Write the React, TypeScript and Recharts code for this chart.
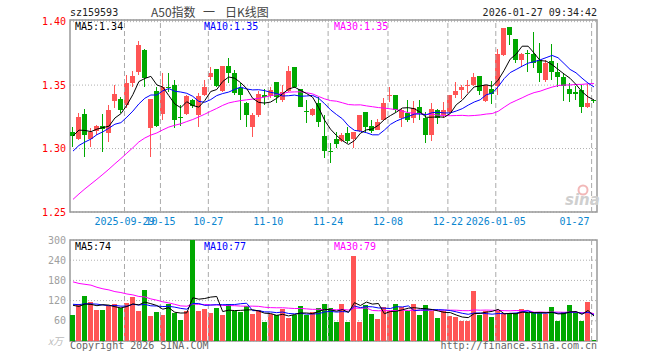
import React from 'react';
import { ComposedChart, Bar, Line, XAxis, YAxis, CartesianGrid, ReferenceLine, ReferenceArea, Cell } from 'recharts';

const MONO = '"DejaVu Sans Mono", monospace';
const RED = '#ff5555';
const GREEN = '#00a800';

// ---- data ----
const opens = [
  1.3133, 1.3076, 1.3270, 1.3076, 1.3141, 1.3178, 1.3126, 1.3378, 1.3388, 1.3341,
  1.3515, 1.3606, 1.3777, 1.3160, 1.3454, 1.3275, 1.3485, 1.3501, 1.3249, 1.3273,
  1.3383, 1.3265, 1.3425, 1.3562, 1.3625, 1.3454, 1.3651, 1.3599, 1.3475, 1.3362,
  1.3173, 1.3265, 1.3420, 1.3415, 1.3525, 1.3383, 1.3457, 1.3646, 1.3467, 1.3294,
  1.3265, 1.3357, 1.3099, 1.2981, 1.3076, 1.3063, 1.3120, 1.3073, 1.3141, 1.3288,
  1.3178, 1.3147, 1.3225, 1.3412, 1.3422, 1.3244, 1.3278, 1.3238, 1.3325, 1.3238,
  1.3107, 1.3304, 1.3265, 1.3291, 1.3422, 1.3462, 1.3498, 1.3501, 1.3572, 1.3378,
  1.3470, 1.3493, 1.3738, 1.3955, 1.3864, 1.3698, 1.3754, 1.3746, 1.3698, 1.3541,
  1.3690, 1.3606, 1.3562, 1.3470, 1.3449, 1.3462, 1.3330, 1.3383,
];
const highs = [
  1.3172, 1.3278, 1.3309, 1.3160, 1.3186, 1.3270, 1.3344, 1.3501, 1.3409, 1.3580,
  1.3614, 1.3850, 1.3782, 1.3388, 1.3488, 1.3593, 1.3593, 1.3541, 1.3344, 1.3422,
  1.3391, 1.3441, 1.3541, 1.3646, 1.3625, 1.3651, 1.3711, 1.3620, 1.3515, 1.3370,
  1.3278, 1.3457, 1.3467, 1.3488, 1.3525, 1.3501, 1.3651, 1.3646, 1.3467, 1.3383,
  1.3317, 1.3404, 1.3265, 1.3047, 1.3133, 1.3120, 1.3168, 1.3133, 1.3265, 1.3288,
  1.3225, 1.3230, 1.3396, 1.3488, 1.3422, 1.3317, 1.3383, 1.3378, 1.3383, 1.3291,
  1.3357, 1.3309, 1.3370, 1.3422, 1.3528, 1.3501, 1.3541, 1.3599, 1.3572, 1.3501,
  1.3535, 1.3782, 1.3948, 1.3961, 1.3864, 1.3751, 1.3777, 1.3921, 1.3835, 1.3698,
  1.3824, 1.3677, 1.3593, 1.3515, 1.3493, 1.3501, 1.3509, 1.3383,
];
const lows = [
  1.3015, 1.3068, 1.2936, 1.3015, 1.3107, 1.2976, 1.3055, 1.3317, 1.3278, 1.3317,
  1.3488, 1.3580, 1.3488, 1.2936, 1.3170, 1.3225, 1.3449, 1.3160, 1.3178, 1.3265,
  1.3317, 1.3173, 1.3417, 1.3541, 1.3488, 1.3449, 1.3515, 1.3422, 1.3225, 1.3173,
  1.3094, 1.3252, 1.3344, 1.3396, 1.3357, 1.3370, 1.3449, 1.3475, 1.3330, 1.3199,
  1.3257, 1.3173, 1.2923, 1.2889, 1.3002, 1.3055, 1.3042, 1.3002, 1.3133, 1.3125,
  1.3120, 1.3147, 1.3225, 1.3370, 1.3291, 1.3173, 1.3212, 1.3199, 1.3225, 1.3042,
  1.3063, 1.3194, 1.3238, 1.3283, 1.3396, 1.3391, 1.3436, 1.3493, 1.3422, 1.3370,
  1.3351, 1.3422, 1.3730, 1.3816, 1.3672, 1.3646, 1.3606, 1.3633, 1.3528, 1.3528,
  1.3541, 1.3488, 1.3378, 1.3370, 1.3383, 1.3283, 1.3317, 1.3357,
];
const closes = [
  1.3096, 1.3251, 1.3107, 1.3133, 1.3178, 1.3157, 1.3304, 1.3431, 1.3304, 1.3515,
  1.3572, 1.3816, 1.3554, 1.3388, 1.3178, 1.3488, 1.3477, 1.3225, 1.3241, 1.3415,
  1.3336, 1.3415, 1.3483, 1.3599, 1.3493, 1.3651, 1.3593, 1.3436, 1.3422, 1.3265,
  1.3265, 1.3431, 1.3409, 1.3462, 1.3409, 1.3449, 1.3614, 1.3488, 1.3330, 1.3286,
  1.3309, 1.3212, 1.2984, 1.2973, 1.3036, 1.3107, 1.3063, 1.3133, 1.3265, 1.3168,
  1.3141, 1.3212, 1.3357, 1.3420, 1.3304, 1.3304, 1.3225, 1.3317, 1.3278, 1.3107,
  1.3309, 1.3238, 1.3304, 1.3422, 1.3454, 1.3488, 1.3504, 1.3562, 1.3457, 1.3501,
  1.3431, 1.3746, 1.3948, 1.3895, 1.3698, 1.3746, 1.3746, 1.3677, 1.3599, 1.3677,
  1.3606, 1.3562, 1.3493, 1.3431, 1.3431, 1.3325, 1.3357, 1.3372,
];
// closes of the 29 sessions before the visible window (estimated from the MA lines)
const priorCloses = [
  1.195, 1.190, 1.200, 1.205, 1.198, 1.210, 1.215, 1.208, 1.222, 1.230,
  1.245, 1.262, 1.270, 1.268, 1.275, 1.282, 1.280, 1.288, 1.290, 1.285,
  1.280, 1.284, 1.290, 1.283, 1.293, 1.302, 1.312, 1.318, 1.308,
];
// volume, 万
const volumes = [
  76, 109, 133, 115, 91, 91, 103, 109, 97, 112,
  130, 88, 151, 73, 85, 76, 109, 84, 61, 88,
  300, 88, 94, 82, 97, 76, 109, 88, 85, 103,
  79, 91, 55, 80, 76, 94, 67, 76, 103, 76,
  85, 97, 109, 97, 55, 109, 55, 253, 55, 106,
  79, 64, 101, 88, 109, 101, 88, 109, 76, 106,
  88, 67, 88, 73, 70, 58, 58, 148, 76, 88,
  70, 88, 82, 82, 82, 94, 82, 82, 82, 80,
  100, 58, 86, 108, 86, 58, 115, 4,
];
const priorVolumes = [
  250, 210, 190, 280, 230, 200, 260, 180, 240, 210,
  230, 190, 250, 200, 220, 205, 215, 200, 115, 105,
  120, 105, 118, 100, 117, 125, 98, 120, 111,
];
// x axis ticks: session index and label
const tickIndex = [9, 15, 23, 33, 43, 53, 63, 71, 87];
const tickLabels = ['2025-09-29', '10-15', '10-27', '11-10', '11-24', '12-08', '12-22', '2026-01-05', '01-27'];
const priceTicks = [1.25, 1.3, 1.35, 1.4];
const volTicks = [60, 120, 180, 240, 300];

function movingAvg(series: number[], prior: number[], n: number): number[] {
  const all = [...prior, ...series];
  return series.map((_, k) => {
    const end = prior.length + k;
    let s = 0;
    for (let j = end - n + 1; j <= end; j++) s += all[j];
    return s / n;
  });
}

const ma5 = movingAvg(closes, priorCloses, 5);
const ma10 = movingAvg(closes, priorCloses, 10);
const ma30 = movingAvg(closes, priorCloses, 30);
const vma5 = movingAvg(volumes, priorVolumes, 5);
const vma10 = movingAvg(volumes, priorVolumes, 10);
const vma30 = movingAvg(volumes, priorVolumes, 30);

const rows = closes.map((c, i) => ({
  i,
  open: opens[i],
  high: highs[i],
  low: lows[i],
  close: c,
  range: [lows[i], highs[i]],
  ma5: ma5[i],
  ma10: ma10[i],
  ma30: ma30[i],
  vol: volumes[i],
  vma5: vma5[i],
  vma10: vma10[i],
  vma30: vma30[i],
}));

const gridPos = tickIndex.map((t) => t - 0.4);
const X_DOMAIN: [number, number] = [-0.5, 87.5];

const Candle = (props: any) => {
  const { x, y, width, height, payload } = props;
  if (x == null || y == null) return null;
  const { open, close, high, low } = payload;
  const up = close > open;
  const color = up ? RED : GREEN;
  const h = Math.abs(height);
  const ratio = h / (high - low);
  const top = y + (high - Math.max(open, close)) * ratio;
  const bot = y + (high - Math.min(open, close)) * ratio;
  const bx = Math.round(x + width / 2 - 2.5);
  return (
    <g shapeRendering="crispEdges">
      <line x1={bx + 2.5} x2={bx + 2.5} y1={y} y2={y + h} stroke={color} strokeWidth={1} />
      <rect x={bx} y={top} width={5} height={Math.max(1, bot - top)} fill={color} />
    </g>
  );
};

const VolBar = (props: any) => {
  const { x, y, width, height, payload } = props;
  if (x == null || y == null) return null;
  const up = payload.close > payload.open;
  const bx = Math.round(x + width / 2 - 2.5);
  return <rect x={bx} y={y} width={5} height={Math.max(0, height)} fill={up ? RED : GREEN} shapeRendering="crispEdges" />;
};

const DateTick = (props: any) => {
  const { x, payload } = props;
  const k = gridPos.indexOf(payload.value);
  if (k < 0) return null;
  const last = k === tickLabels.length - 1;
  return (
    <text x={last ? x - 2 : x} y={225} textAnchor={last ? 'end' : 'middle'} fill="#0a86d0" fontSize={10} fontFamily={MONO}>
      {tickLabels[k]}
    </text>
  );
};

const PriceTick = (props: any) => {
  const { y, payload } = props;
  return (
    <text x={66} y={y + 3.5} textAnchor="end" fill="#ff0000" fontSize={10} fontFamily={MONO}>
      {Number(payload.value).toFixed(2)}
    </text>
  );
};

const VolTick = (props: any) => {
  const { y, payload } = props;
  return (
    <text x={66} y={y + 3.5} textAnchor="end" fill="#a0a0a0" fontSize={10} fontFamily={MONO}>
      {payload.value}
    </text>
  );
};

export default function App() {
  return (
    <div style={{ position: 'absolute', left: 0, top: 0, width: 660, height: 360, background: '#fff', overflow: 'hidden' }}>
      <div style={{ position: 'absolute', left: 0, top: 0 }}>
        <ComposedChart width={660} height={232} data={rows} margin={{ top: 20, right: 63, bottom: 0, left: 0 }}>
          <CartesianGrid vertical={false} stroke="#b0b0b0" strokeDasharray="1 2" />
          <XAxis
            dataKey="i"
            type="number"
            domain={X_DOMAIN}
            ticks={gridPos}
            interval={0}
            tick={DateTick}
            tickLine={false}
            axisLine={false}
            height={20}
            allowDataOverflow
          />
          <YAxis
            type="number"
            domain={[1.25, 1.4013]}
            ticks={priceTicks}
            interval={0}
            tick={PriceTick}
            tickLine={false}
            axisLine={false}
            width={70}
            allowDataOverflow
          />
          {gridPos.map((g) => (
            <ReferenceLine key={g} x={g} stroke="#aaa" strokeDasharray="5 3" />
          ))}
          <Bar dataKey="range" barSize={5} shape={Candle} isAnimationActive={false} />
          <Line dataKey="ma30" stroke="#ff00ff" strokeWidth={1} dot={false} isAnimationActive={false} type="linear" />
          <Line dataKey="ma10" stroke="#0000ff" strokeWidth={1} dot={false} isAnimationActive={false} type="linear" />
          <Line dataKey="ma5" stroke="#000000" strokeWidth={1} dot={false} isAnimationActive={false} type="linear" />
          <ReferenceArea x1={-0.5} x2={87.5} y1={1.25} y2={1.4013} fill="none" stroke="#999" strokeWidth={1.5} />
        </ComposedChart>
      </div>
      <div style={{ position: 'absolute', left: 0, top: 230 }}>
        <ComposedChart width={660} height={130} data={rows} margin={{ top: 10, right: 63, bottom: 19, left: 0 }}>
          <CartesianGrid vertical={false} stroke="#b0b0b0" strokeDasharray="1 2" />
          <XAxis dataKey="i" type="number" domain={X_DOMAIN} hide allowDataOverflow />
          <YAxis
            type="number"
            domain={[0, 300]}
            ticks={volTicks}
            interval={0}
            tick={VolTick}
            tickLine={false}
            axisLine={false}
            width={70}
            allowDataOverflow
          />
          {gridPos.map((g) => (
            <ReferenceLine key={g} x={g} stroke="#aaa" strokeDasharray="5 3" />
          ))}
          <Bar dataKey="vol" barSize={5} shape={VolBar} isAnimationActive={false}>
            {rows.map((r) => (
              <Cell key={r.i} fill={r.close > r.open ? RED : GREEN} />
            ))}
          </Bar>
          <Line dataKey="vma30" stroke="#ff00ff" strokeWidth={1} dot={false} isAnimationActive={false} type="linear" />
          <Line dataKey="vma10" stroke="#0000ff" strokeWidth={1} dot={false} isAnimationActive={false} type="linear" />
          <Line dataKey="vma5" stroke="#000000" strokeWidth={1} dot={false} isAnimationActive={false} type="linear" />
          <ReferenceArea x1={-0.5} x2={87.5} y1={0} y2={300} fill="none" stroke="#999" strokeWidth={1.5} />
        </ComposedChart>
      </div>
      <svg width={660} height={360} style={{ position: 'absolute', left: 0, top: 0, pointerEvents: 'none' }}>
        <text x={70} y={16} fontSize={10} fontFamily={MONO} fill="#222">sz159593</text>
        <text x={151} y={17} fontSize={12} fontFamily='"Noto Sans CJK SC", sans-serif' fill="#444">A50指数</text>
        <text x={203} y={17} fontSize={12} fontFamily='"Noto Sans CJK SC", sans-serif' fill="#444">一</text>
        <text x={225} y={17} fontSize={12} fontFamily='"Noto Sans CJK SC", sans-serif' fill="#444">日K线图</text>
        <text x={597} y={16} fontSize={10} fontFamily={MONO} fill="#222" textAnchor="end">2026-01-27 09:34:42</text>
        <text x={75} y={30} fontSize={10} fontFamily={MONO} fill="#000">MA5:1.34</text>
        <text x={204} y={30} fontSize={10} fontFamily={MONO} fill="#0000ff">MA10:1.35</text>
        <text x={334} y={30} fontSize={10} fontFamily={MONO} fill="#ff00ff">MA30:1.35</text>
        <text x={75} y={250} fontSize={10} fontFamily={MONO} fill="#000">MA5:74</text>
        <text x={204} y={250} fontSize={10} fontFamily={MONO} fill="#0000ff">MA10:77</text>
        <text x={334} y={250} fontSize={10} fontFamily={MONO} fill="#ff00ff">MA30:79</text>
        <text x={48} y={345} fontSize={10} fontFamily='"Noto Sans CJK SC", sans-serif' fill="#bbb" fontStyle="italic">x万</text>
        <text x={70} y={349} fontSize={10} fontFamily={MONO} fill="#666">Copyright 2026 SINA.COM</text>
        <text x={597} y={349} fontSize={10} fontFamily={MONO} fill="#666" textAnchor="end">http://finance.sina.com.cn</text>
        <circle cx={583} cy={190} r={4.5} fill="none" stroke="#f2b8b8" strokeWidth={2} />
        <text x={565} y={205} fontSize={15} fontFamily='"DejaVu Sans", sans-serif' fontWeight="bold" fontStyle="italic" fill="#cfcfcf">sina</text>
      </svg>
    </div>
  );
}
